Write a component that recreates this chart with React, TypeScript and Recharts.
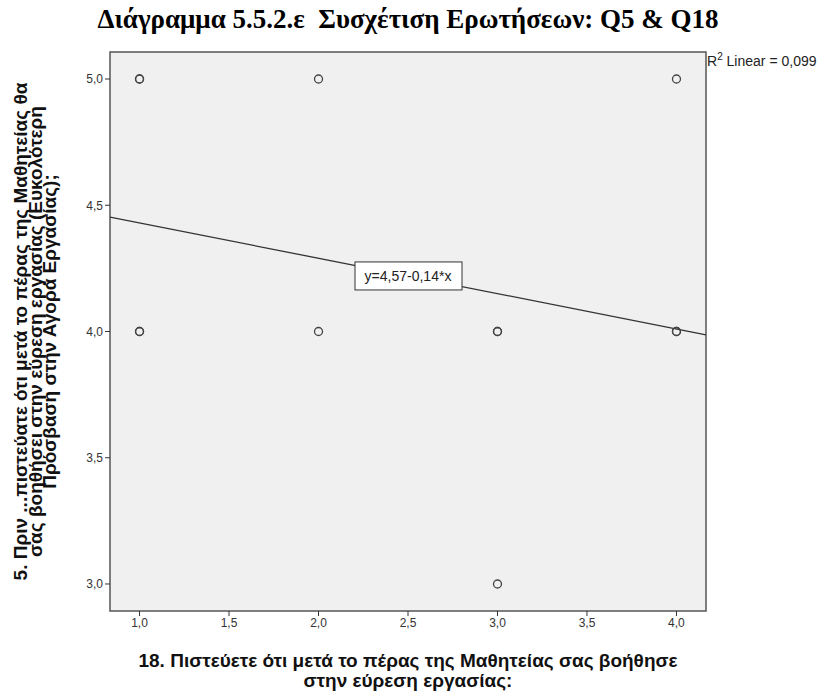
import React from 'react'
import {
  ScatterChart,
  Scatter,
  XAxis,
  YAxis,
  ReferenceArea,
  ReferenceLine,
  Label,
} from 'recharts'

// Q18 (x) vs Q5 (y) responses; repeated pairs show up as darker rings
const q18Values = [1, 1, 2, 4, 1, 1, 2, 3, 3, 4, 4, 3]
const q5Values = [5, 5, 5, 5, 4, 4, 4, 4, 4, 4, 4, 3]

const xTicks = [1, 1.5, 2, 2.5, 3, 3.5, 4]
const yTicks = [3, 3.5, 4, 4.5, 5]
const xDomain = [0.835, 4.165]
const yDomain = [2.893, 5.107]

const intercept = 4.57
const slope = -0.14
const rSquared = '0,099'

const title = 'Διάγραμμα 5.5.2.ε  Συσχέτιση Ερωτήσεων: Q5 & Q18'
const xLabelLines = [
  '18. Πιστεύετε ότι μετά το πέρας της Μαθητείας σας βοήθησε',
  'στην εύρεση εργασίας:',
]
const yLabelLines = [
  '5. Πριν ...πιστεύατε ότι μετά το πέρας της Μαθητείας θα',
  'σας βοηθήσει στην εύρεση εργασίας (Ευκολότερη',
  'Πρόσβαση στην Αγορά Εργασίας);',
]

const points = q18Values.map((x, i) => ({ x, y: q5Values[i] }))
const fmt = (v: number) => v.toFixed(1).replace('.', ',')
const fmt2 = (v: number) => v.toFixed(2).replace('.', ',')
const lineAt = (x: number) => intercept + slope * x

const font = '"Liberation Sans", Arial, sans-serif'
const tickStyle = { fill: '#333', fontSize: 12, fontFamily: font }

const Ring = (props: any) => (
  <circle cx={props.cx} cy={props.cy} r={4} fill="none" stroke="#444" strokeWidth={1.3} />
)

export default function App() {
  return (
    <div style={{ position: 'absolute', left: 0, top: 0, width: 821, height: 691, background: '#fff' }}>
      <div
        style={{
          position: 'absolute',
          left: 0,
          top: 4,
          width: 816,
          textAlign: 'center',
          fontFamily: '"Liberation Serif", "Times New Roman", serif',
          fontWeight: 'bold',
          fontSize: 27,
          whiteSpace: 'pre',
          lineHeight: '30px',
        }}
      >
        {title}
      </div>
      <ScatterChart width={821} height={691} margin={{ top: 52, right: 115, bottom: 60, left: 70 }}>
        <ReferenceArea
          x1={xDomain[0]}
          x2={xDomain[1]}
          y1={yDomain[0]}
          y2={yDomain[1]}
          fill="#f0f0f0"
          fillOpacity={1}
          stroke="#555"
          strokeWidth={1.5}
          ifOverflow="visible"
        />
        <XAxis
          dataKey="x"
          type="number"
          domain={xDomain}
          ticks={xTicks}
          tickFormatter={fmt}
          allowDataOverflow
          height={20}
          tickSize={5}
          axisLine={false}
          tickLine={{ stroke: '#333' }}
          tick={tickStyle}
        >
          <Label
            content={({ viewBox }: any) => {
              const cx = viewBox.x + viewBox.width / 2
              return (
                <text textAnchor="middle" fontFamily={font} fontWeight="bold" fontSize={19} fill="#111">
                  {xLabelLines.map((t, i) => (
                    <tspan key={i} x={cx} y={667 + i * 20}>
                      {t}
                    </tspan>
                  ))}
                </text>
              )
            }}
          />
        </XAxis>
        <YAxis
          dataKey="y"
          type="number"
          domain={yDomain}
          ticks={yTicks}
          tickFormatter={fmt}
          allowDataOverflow
          width={40}
          tickSize={5}
          axisLine={false}
          tickLine={{ stroke: '#333' }}
          tick={tickStyle}
        >
          <Label
            content={({ viewBox }: any) => {
              const cy = viewBox.y + viewBox.height / 2
              return (
                <g transform={`translate(0, ${cy}) rotate(-90)`}>
                  <text textAnchor="middle" fontFamily={font} fontWeight="bold" fontSize={19} fill="#111">
                    {yLabelLines.map((t, i) => (
                      <tspan key={i} x={0} y={27 + i * 14.5}>
                        {t}
                      </tspan>
                    ))}
                  </text>
                </g>
              )
            }}
          />
        </YAxis>
        <ReferenceLine
          segment={[
            { x: xDomain[0], y: lineAt(xDomain[0]) },
            { x: xDomain[1], y: lineAt(xDomain[1]) },
          ]}
          stroke="#333"
          strokeWidth={1.3}
          label={(p: any) => {
            const vb = p.viewBox
            const cx = vb.x + vb.width / 2
            const cy = vb.y + vb.height / 2
            return (
              <g>
                <rect x={cx - 53} y={cy - 14} width={107} height={28} fill="#fff" stroke="#333" strokeWidth={1} />
                <text x={cx} y={cy + 5} textAnchor="middle" fontFamily={font} fontSize={14} fill="#222">
                  {`y=${fmt2(intercept)}-${fmt2(Math.abs(slope))}*x`}
                </text>
              </g>
            )
          }}
        />
        <Scatter data={points} shape={Ring} isAnimationActive={false} />
        <ReferenceArea
          x1={xDomain[1]}
          x2={xDomain[1]}
          y1={yDomain[1]}
          y2={yDomain[1]}
          ifOverflow="visible"
          fillOpacity={0}
          label={(p: any) => (
            <text x={p.viewBox.x + 1} y={p.viewBox.y + 14} fontFamily={font} fontSize={14} fill="#222">
              R<tspan dy={-6} fontSize={10}>2</tspan>
              <tspan dy={6}>{` Linear = ${rSquared}`}</tspan>
            </text>
          )}
        />
      </ScatterChart>
    </div>
  )
}
